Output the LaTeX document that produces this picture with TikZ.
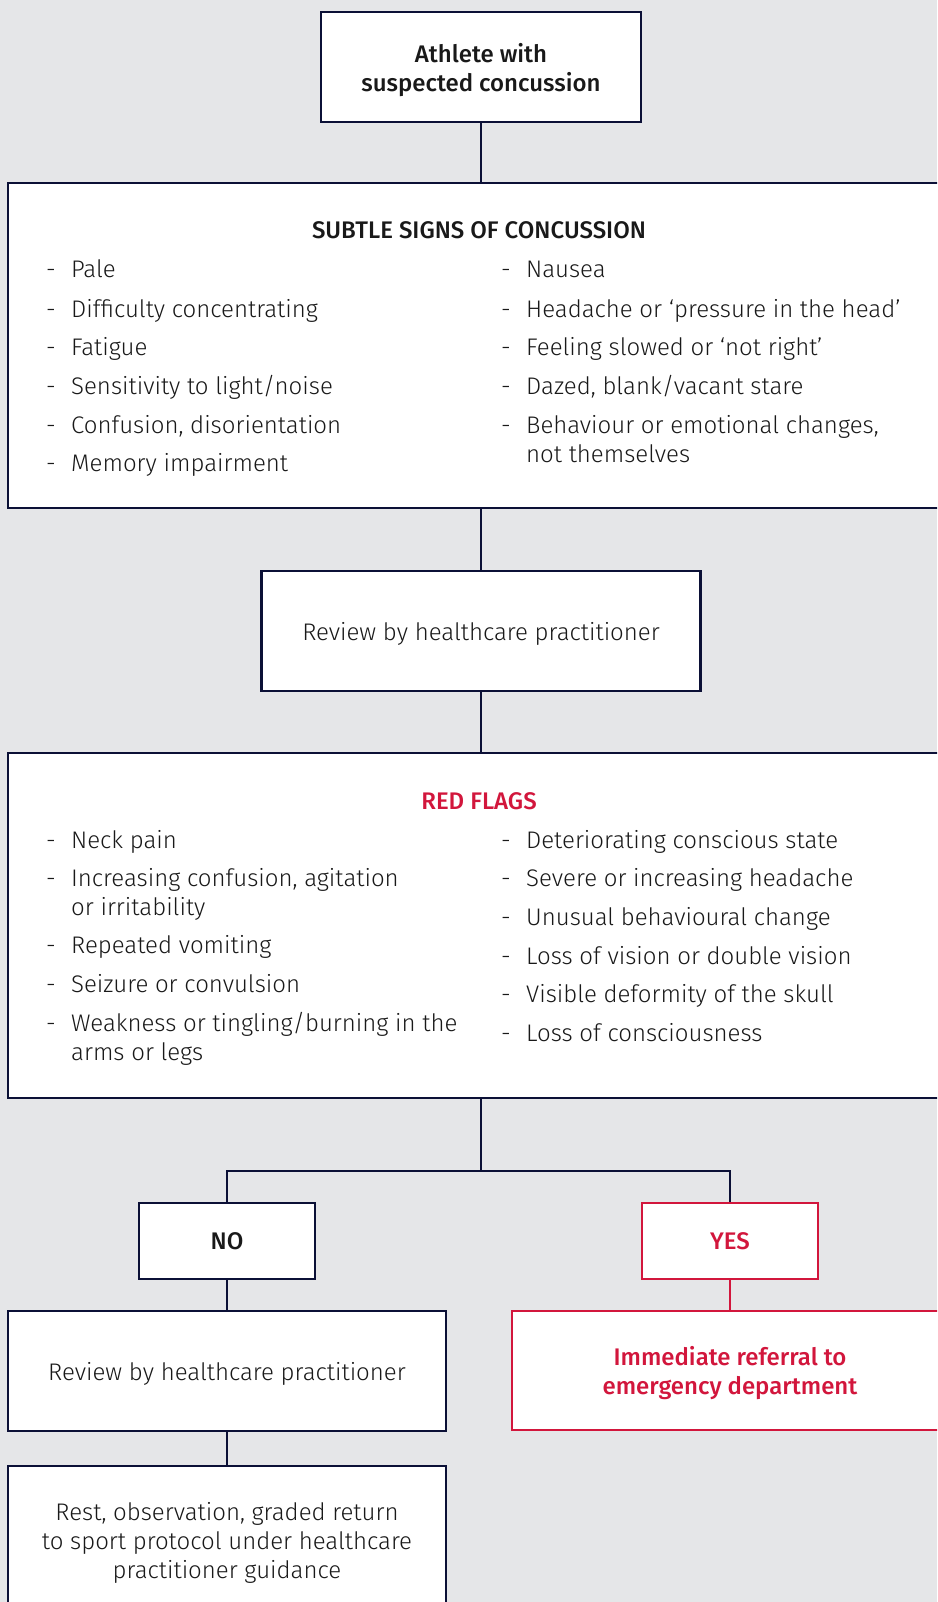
\documentclass[tikz,border=0pt]{standalone}
\usepackage{fontspec}
\setmainfont{Fira Sans}[UprightFont=* Light, BoldFont=* Medium]
\definecolor{cfnavy}{RGB}{11,16,54}
\definecolor{cfred}{RGB}{210,22,60}
\definecolor{cfgrey}{RGB}{229,230,232}
\definecolor{cftext}{RGB}{25,25,25}
\newcommand{\dashitem}{\makebox[25pt][l]{-}}
\newcommand{\indentitem}{\makebox[25pt][l]{}}

\begin{document}
\begin{tikzpicture}[x=1pt, y=-1pt,
  every node/.style={font=\fontsize{24}{29}\selectfont, text=cftext},
  heavy/.style={font=\fontsize{24}{29}\selectfont\bfseries},
  box/.style={draw=cfnavy, fill=white, line width=2.7pt, inner sep=0pt, align=center, text depth=0pt},
  redbox/.style={box, draw=cfred, text=cfred},
  item/.style={anchor=base west, align=left, inner sep=0pt},
  link/.style={cfnavy, line width=2.7pt},
  redlink/.style={cfred, line width=2.7pt}]
\useasboundingbox (0,0) rectangle (937,1602);
\clip (0,0) rectangle (937,1602);
\fill[cfgrey] (0,0) rectangle (937,1602);

% Start
\node[box, heavy, minimum width=320, minimum height=110] (athlete) at (481,67) {Athlete with\\suspected concussion};

% Subtle signs (two-line items sit on their last baseline)
\node[box, minimum width=946, minimum height=325] (subtle) at (481,345.5) {};
\node[heavy, anchor=base] (subtle_title) at (479,239) {SUBTLE SIGNS OF CONCUSSION};
\node[item] (sub_l1) at (46,278) {\dashitem Pale};
\node[item] (sub_l2) at (46,317) {\dashitem Difficulty concentrating};
\node[item] (sub_l3) at (46,355.5) {\dashitem Fatigue};
\node[item] (sub_l4) at (46,394) {\dashitem Sensitivity to light/noise};
\node[item] (sub_l5) at (46,433) {\dashitem Confusion, disorientation};
\node[item] (sub_l6) at (46,471.5) {\dashitem Memory impairment};
\node[item] (sub_r1) at (501,278) {\dashitem Nausea};
\node[item] (sub_r2) at (501,317) {\dashitem Headache or ‘pressure in the head’};
\node[item] (sub_r3) at (501,355.5) {\dashitem Feeling slowed or ‘not right’};
\node[item] (sub_r4) at (501,394) {\dashitem Dazed, blank/vacant stare};
\node[item] (sub_r5) at (501,462) {\dashitem Behaviour or emotional changes,\\\indentitem not themselves};

% Review
\node[box, minimum width=439, minimum height=120] (review) at (481,631) {Review by healthcare practitioner};

% Red flags
\node[box, minimum width=946, minimum height=345] (redflags) at (481,925.5) {};
\node[heavy, text=cfred, anchor=base] (red_title) at (479,809) {RED FLAGS};
\node[item] (red_l1) at (46,848) {\dashitem Neck pain};
\node[item] (red_l2) at (46,915.7) {\dashitem Increasing confusion, agitation\\\indentitem or irritability};
\node[item] (red_l3) at (46,953) {\dashitem Repeated vomiting};
\node[item] (red_l4) at (46,992) {\dashitem Seizure or convulsion};
\node[item] (red_l5) at (46,1060) {\dashitem Weakness or tingling/burning in the\\\indentitem arms or legs};
\node[item] (red_r1) at (501,848) {\dashitem Deteriorating conscious state};
\node[item] (red_r2) at (501,886.5) {\dashitem Severe or increasing headache};
\node[item] (red_r3) at (501,925) {\dashitem Unusual behavioural change};
\node[item] (red_r4) at (501,964) {\dashitem Loss of vision or double vision};
\node[item] (red_r5) at (501,1002.5) {\dashitem Visible deformity of the skull};
\node[item] (red_r6) at (501,1041) {\dashitem Loss of consciousness};

% Decision
\coordinate (split) at (481,1171);
\node[box, heavy, minimum width=176, minimum height=76] (no) at (227,1241) {NO};
\node[redbox, heavy, minimum width=176, minimum height=76] (yes) at (730,1241) {YES};

% Outcomes
\node[box, minimum width=438, minimum height=120] (review_no) at (227,1371) {Review by healthcare practitioner};
\node[redbox, heavy, minimum width=436, minimum height=119] (referral) at (730,1370.5) {Immediate referral to\\emergency department};
\node[box, minimum width=438, minimum height=148] (rest) at (227,1540) {Rest, observation, graded return\\to sport protocol under healthcare\\practitioner guidance};

% Connectors
\draw[link] (athlete) -- (subtle);
\draw[link] (subtle) -- (review);
\draw[link] (review) -- (redflags);
\draw[link] (redflags) -- (split);
\draw[link] (split) -| (no);
\draw[link] (split) -| (yes);
\draw[link] (no) -- (review_no);
\draw[redlink] (yes) -- (referral);
\draw[link] (review_no) -- (rest);
\end{tikzpicture}
\end{document}
